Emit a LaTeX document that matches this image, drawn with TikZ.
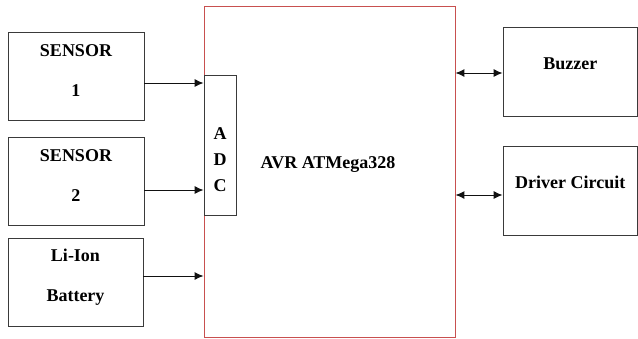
\documentclass[tikz,border=0pt]{standalone}
\usepackage{fontspec}
\setmainfont{Liberation Serif}
\usetikzlibrary{arrows.meta,positioning}
\definecolor{BoxInk}{HTML}{3A3A3A}
\definecolor{ChipRed}{HTML}{C8504F}
\definecolor{WireInk}{HTML}{111111}

\begin{document}
\begin{tikzpicture}[
	x=1pt, y=-1pt,
	font=\fontsize{18}{20}\selectfont\bfseries,
	block/.style={draw=BoxInk, line width=0.85pt, inner sep=0pt, minimum width=136pt, minimum height=88pt},
	chip/.style={draw=ChipRed, line width=0.9pt, inner sep=0pt, minimum width=251pt, minimum height=331pt},
	adcbox/.style={draw=BoxInk, fill=white, line width=0.85pt, inner sep=0pt, minimum width=32pt, minimum height=140pt},
	boxtext/.style={align=center, inner sep=0pt},
	link/.style={-{Latex[length=9pt,width=8pt]}, draw=WireInk, line width=1pt},
	bilink/.style={{Latex[length=9pt,width=8pt]}-{Latex[length=9pt,width=8pt]}, draw=WireInk, line width=1pt}
]
\useasboundingbox (0,0) rectangle (638,338);

\node[chip] (mcu) at (329.5,171.5) {};
\node[boxtext] (mcutext) at (328,164) {AVR ATMega328};
\node[adcbox, label={[boxtext, yshift=-15pt]center:A\\[6pt]D\\[6pt]C}] (adc) at (220,145) {};

\node[block, label={[boxtext, yshift=5pt]center:SENSOR\\[20pt]1}] (sensorA) at (76,76) {};
\node[block, label={[boxtext, yshift=5pt]center:SENSOR\\[20pt]2}] (sensorB) at (76,181) {};
\node[block, minimum width=135pt, label={[boxtext, yshift=5pt]center:Li-Ion\\[20pt]Battery}] (battery) at (75.5,282) {};

\node[block, minimum width=134.5pt, minimum height=89pt, label={[boxtext, yshift=7.5pt]center:Buzzer}] (buzzer) at (570.25,71.5) {};
\node[block, minimum width=134.5pt, minimum height=89pt, label={[boxtext, yshift=8.5pt]center:Driver Circuit}] (driver) at (570.25,190.5) {};

\draw[link] ([yshift=-7pt]sensorA.east) -- ([yshift=-7pt]sensorA.east -| adc.west);
\draw[link] ([yshift=-9pt]sensorB.east) -- ([yshift=-9pt]sensorB.east -| adc.west);
\draw[link] ([yshift=6pt]battery.east) -- ([yshift=6pt]battery.east -| mcu.west);
\draw[bilink] ([yshift=-1.5pt]buzzer.west -| mcu.east) -- ([yshift=-1.5pt]buzzer.west);
\draw[bilink] ([yshift=-4.5pt]driver.west -| mcu.east) -- ([yshift=-4.5pt]driver.west);
\end{tikzpicture}
\end{document}
